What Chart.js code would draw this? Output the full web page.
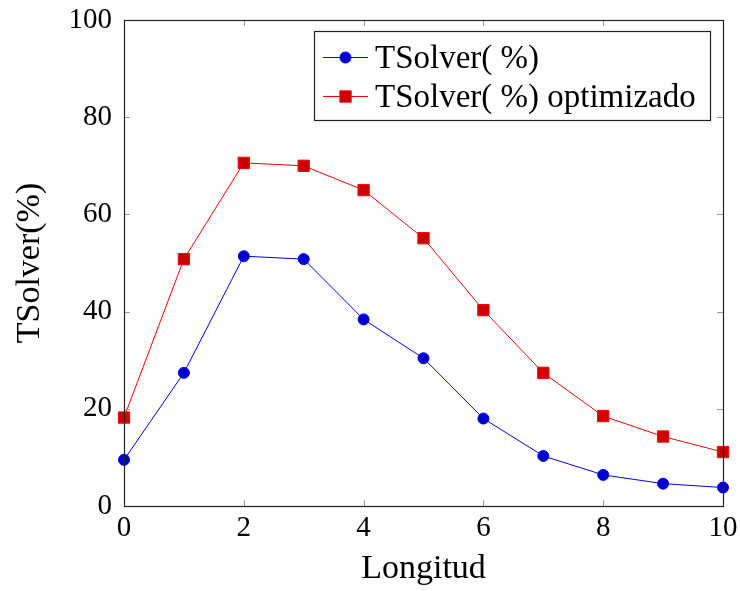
<!DOCTYPE html>
<html><head><meta charset="utf-8">
<script src="https://cdn.jsdelivr.net/npm/chart.js@4.4.0/dist/chart.umd.min.js"></script>
<style>html,body{margin:0;padding:0;background:#fff}#wrap{width:740px;height:591px}</style>
</head><body><div id="wrap"><canvas id="c" width="740" height="591"></canvas></div>
<script>
const longitud = [0,1,2,3,4,5,6,7,8,9,10];
const tsolver = [9.5,27.4,51.4,50.8,38.4,30.4,18.0,10.3,6.4,4.6,3.8];
const tsolverOpt = [18.2,50.8,70.6,70.0,65.0,55.1,40.3,27.4,18.5,14.3,11.1];
const seriesLabels = ['TSolver( %)','TSolver( %) optimizado'];
const xTitle = 'Longitud';
const yTitle = 'TSolver(%)';
const xTickValues = [0,2,4,6,8,10];
const yTickValues = [0,20,40,60,80,100];

const FONT = "'Liberation Serif', 'Times New Roman', serif";

const frame = {
  id: 'frame',
  afterDraw(chart) {
    const {ctx, chartArea: {left, right, top, bottom}, scales: {x, y}} = chart;
    ctx.save();
    ctx.strokeStyle = '#9a9a9a';
    ctx.lineWidth = 1;
    const L = 6;
    ctx.beginPath();
    x.ticks.forEach(t => {
      const px = Math.round(x.getPixelForValue(t.value)) + 0.5;
      ctx.moveTo(px, bottom); ctx.lineTo(px, bottom - L);
      ctx.moveTo(px, top); ctx.lineTo(px, top + L);
    });
    y.ticks.forEach(t => {
      const py = Math.round(y.getPixelForValue(t.value)) + 0.5;
      ctx.moveTo(left, py); ctx.lineTo(left + L, py);
      ctx.moveTo(right, py); ctx.lineTo(right - L, py);
    });
    ctx.stroke();
    ctx.strokeStyle = '#222';
    ctx.lineWidth = 1.2;
    ctx.strokeRect(Math.round(left) + 0.5, Math.round(top) + 0.5, Math.round(right - left), Math.round(bottom - top));

    // legend
    const bx = 314, by = 31, bw = 396, bh = 89;
    ctx.fillStyle = '#fff';
    ctx.fillRect(bx, by, bw, bh);
    ctx.strokeStyle = '#222';
    ctx.lineWidth = 1.2;
    ctx.strokeRect(bx + 0.5, by + 0.5, bw, bh);
    const rows = [57, 96];
    chart.data.datasets.forEach((ds, i) => {
      const cy = rows[i];
      ctx.strokeStyle = ds.borderColor;
      ctx.lineWidth = 1;
      ctx.beginPath(); ctx.moveTo(323, cy + 0.5); ctx.lineTo(368, cy + 0.5); ctx.stroke();
      ctx.fillStyle = ds.pointBackgroundColor;
      ctx.strokeStyle = ds.pointBorderColor;
      ctx.beginPath();
      if (ds.pointStyle === 'rect') {
        const s = ds.pointRadius * Math.SQRT1_2;
        ctx.rect(345.5 - s, cy + 0.5 - s, 2 * s, 2 * s);
      } else {
        ctx.arc(345.5, cy + 0.5, ds.pointRadius, 0, Math.PI * 2);
      }
      ctx.fill(); ctx.stroke();
      ctx.fillStyle = '#000';
      ctx.font = "33px " + FONT;
      ctx.textBaseline = 'alphabetic';
      ctx.textAlign = 'left';
      ctx.fillText(ds.label, 375, cy + 11);
    });
    ctx.restore();
  }
};

new Chart(document.getElementById('c'), {
  type: 'line',
  data: {
    datasets: [
      {
        label: seriesLabels[0],
        data: longitud.map((v, i) => ({x: v, y: tsolver[i]})),
        borderColor: '#0000ff', borderWidth: 1,
        pointStyle: 'circle', pointRadius: 5.5, pointBorderWidth: 1,
        pointBackgroundColor: '#0000cc', pointBorderColor: '#0000ff',
        clip: false, tension: 0
      },
      {
        label: seriesLabels[1],
        data: longitud.map((v, i) => ({x: v, y: tsolverOpt[i]})),
        borderColor: '#ff0000', borderWidth: 1,
        pointStyle: 'rect', pointRadius: 8, pointBorderWidth: 1,
        pointBackgroundColor: '#cc0000', pointBorderColor: '#ff0000',
        clip: false, tension: 0
      }
    ]
  },
  options: {
    responsive: false, animation: false, devicePixelRatio: 1,
    layout: {padding: {top: 20, right: 17, left: 0, bottom: 0}},
    plugins: {legend: {display: false}, tooltip: {enabled: false}},
    scales: {
      x: {
        type: 'linear', min: 0, max: 10,
        afterBuildTicks: s => { s.ticks = xTickValues.map(v => ({value: v})); },
        afterFit: s => { s.height = 85; s.paddingLeft = 0; s.paddingRight = 0; },
        grid: {display: false, drawTicks: false},
        border: {display: false},
        ticks: {color: '#000', font: {family: FONT, size: 29}, padding: 5, maxRotation: 0, autoSkip: false},
        title: {display: true, text: xTitle, color: '#000', font: {family: FONT, size: 34}, padding: {top: 0, bottom: 2}}
      },
      y: {
        type: 'linear', min: 0, max: 100,
        afterBuildTicks: s => { s.ticks = yTickValues.map(v => ({value: v})); },
        afterFit: s => { s.width = 124; s.paddingTop = 0; s.paddingBottom = 0; },
        grid: {display: false, drawTicks: false},
        border: {display: false},
        ticks: {color: '#000', font: {family: FONT, size: 29}, padding: 12, autoSkip: false},
        title: {display: true, text: yTitle, color: '#000', font: {family: FONT, size: 34}, padding: {top: 10, bottom: 0}}
      }
    }
  },
  plugins: [frame]
});
</script>
</body></html>
